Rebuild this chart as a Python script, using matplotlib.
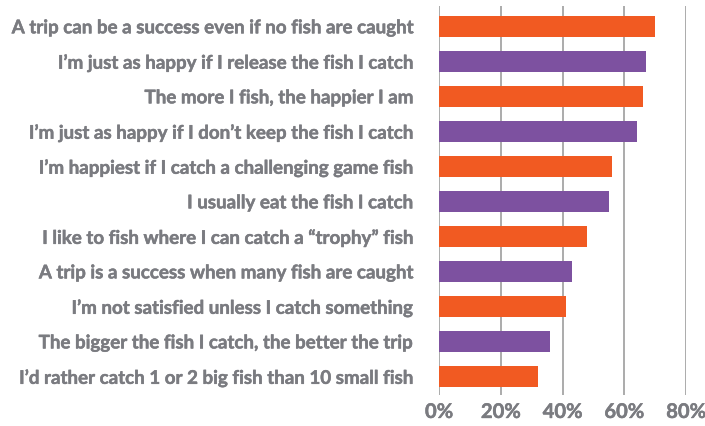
import matplotlib.pyplot as plt
import matplotlib.patheffects as pe

labels = [
    "A trip can be a success even if no fish are caught",
    "I\u2019m just as happy if I release the fish I catch",
    "The more I fish, the happier I am",
    "I\u2019m just as happy if I don\u2019t keep the fish I catch",
    "I\u2019m happiest if I catch a challenging game fish",
    "I usually eat the fish I catch",
    "I like to fish where I can catch a \u201ctrophy\u201d fish",
    "A trip is a success when many fish are caught",
    "I\u2019m not satisfied unless I catch something",
    "The bigger the fish I catch, the better the trip",
    "I\u2019d rather catch 1 or 2 big fish than 10 small fish",
]
values = [70, 67, 66, 64, 56, 55, 48, 43, 41, 36, 32]
x_ticks = [0, 20, 40, 60, 80]
x_ticklabels = ["0%", "20%", "40%", "60%", "80%"]

orange = "#f15a22"
purple = "#7d51a0"
textgray = "#7a7b80"

plt.rcParams['font.family'] = ['Lato', 'DejaVu Sans']

fig = plt.figure(figsize=(7.05, 4.26), dpi=100)
ax = fig.add_axes([0.6227, 0.0728, 0.3504, 0.9131])

n = len(values)
ypos = [n - 1 - i for i in range(n)]
colors = [orange if i % 2 == 0 else purple for i in range(n)]
ax.barh(ypos, values, height=0.6, color=colors, zorder=2)

ax.set_xlim(0, 80)
ax.set_ylim(-0.53, n - 1 + 0.58)
ax.set_xticks(x_ticks)
ax.set_xticklabels(x_ticklabels)
ax.set_yticks(ypos)
ax.set_yticklabels(labels)

heavy = [pe.withStroke(linewidth=0.35, foreground=textgray)]
for t in ax.get_yticklabels() + ax.get_xticklabels():
    t.set_color(textgray)
    t.set_fontweight("bold")
    t.set_path_effects(heavy)
for t in ax.get_yticklabels():
    t.set_fontsize(13.5)
for t in ax.get_xticklabels():
    t.set_fontsize(14.5)

ax.tick_params(axis="y", length=0, pad=19)
ax.tick_params(axis="x", length=0, pad=5)
ax.grid(axis="x", color="#9d9d9d", linewidth=1.2, zorder=0)
for s in ax.spines.values():
    s.set_visible(False)

fig.savefig("out.png", dpi=100)
